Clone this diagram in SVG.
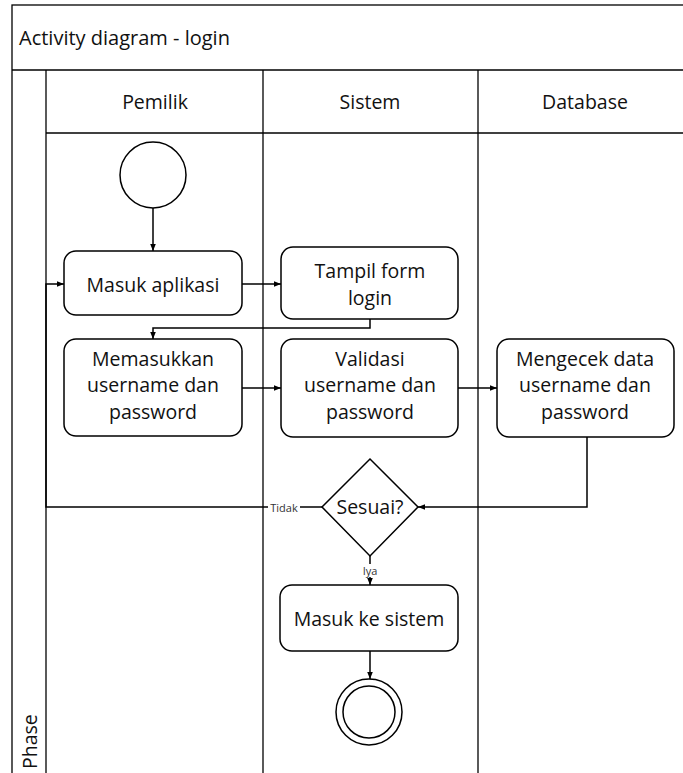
<svg xmlns="http://www.w3.org/2000/svg" width="683" height="773" viewBox="0 0 683 773">
<defs>
<style>
.ln{fill:none;stroke:#000;stroke-width:1.3}
.box{fill:#fff;stroke:#000;stroke-width:1.5}
.t{font-family:"Open Sans","Noto Sans",sans-serif;font-size:19.5px;fill:#111;text-anchor:middle;dominant-baseline:central}
.s{font-family:"Open Sans","Noto Sans",sans-serif;font-size:11px;fill:#333;text-anchor:middle;dominant-baseline:central}
.c{fill:none;stroke:#000;stroke-width:1.5}
</style>
<marker id="ah" viewBox="0 0 10 10" refX="10" refY="5" markerWidth="7" markerHeight="7" markerUnits="userSpaceOnUse" orient="auto">
<path d="M0,1 L10,5 L0,9 Z" fill="#000"/>
</marker>
</defs>
<rect width="683" height="773" fill="#fff"/>
<g id="frame">
<rect x="12" y="5" width="700" height="800" class="ln"/>
<line x1="12" y1="70" x2="690" y2="70" class="ln"/>
<text x="19" y="37" class="t" style="text-anchor:start;font-size:20px">Activity diagram - login</text>
<line x1="46" y1="70" x2="46" y2="773" class="ln"/>
<line x1="46" y1="133" x2="690" y2="133" class="ln"/>
<line x1="263" y1="70" x2="263" y2="773" class="ln"/>
<line x1="478" y1="70" x2="478" y2="773" class="ln"/>
<text x="155" y="101" class="t">Pemilik</text>
<text x="370" y="101" class="t">Sistem</text>
<text x="585" y="101" class="t">Database</text>
<text transform="translate(29,769) rotate(-90)" class="t" style="text-anchor:start">Phase</text>
</g>
<g id="connectors">
<line x1="153" y1="208" x2="153" y2="251" class="c" marker-end="url(#ah)"/>
<line x1="242" y1="284" x2="281" y2="284" class="c" marker-end="url(#ah)"/>
<polyline points="370,319 370,328 153,328 153,339" class="c" marker-end="url(#ah)"/>
<line x1="242" y1="388" x2="281" y2="388" class="c" marker-end="url(#ah)"/>
<line x1="458" y1="388" x2="497" y2="388" class="c" marker-end="url(#ah)"/>
<polyline points="587,437 587,507 418,507" class="c" marker-end="url(#ah)"/>
<polyline points="322,507 46,507 46,284 64,284" class="c" marker-end="url(#ah)"/>
<rect x="268" y="500" width="32" height="14" fill="#fff"/>
<text x="284" y="507" class="s">Tidak</text>
<line x1="370" y1="556" x2="370" y2="585" class="c" marker-end="url(#ah)"/>
<rect x="361" y="564" width="18" height="13" fill="#fff"/>
<text x="370" y="570" class="s">Iya</text>
<line x1="370" y1="651" x2="370" y2="679" class="c" marker-end="url(#ah)"/>
</g>
<g id="start"><circle cx="153" cy="175" r="33" class="box"/></g>
<g id="masuk-aplikasi">
<rect x="64" y="251" width="178" height="64" rx="12" class="box"/>
<text x="153" y="284" class="t">Masuk aplikasi</text>
</g>
<g id="tampil-form">
<rect x="281" y="247" width="177" height="72" rx="12" class="box"/>
<text x="370" y="270" class="t">Tampil form</text>
<text x="370" y="297" class="t">login</text>
</g>
<g id="memasukkan">
<rect x="64" y="339" width="178" height="97" rx="12" class="box"/>
<text x="153" y="358" class="t">Memasukkan</text>
<text x="153" y="384" class="t">username dan</text>
<text x="153" y="411" class="t">password</text>
</g>
<g id="validasi">
<rect x="281" y="339" width="177" height="98" rx="12" class="box"/>
<text x="370" y="358" class="t">Validasi</text>
<text x="370" y="384" class="t">username dan</text>
<text x="370" y="411" class="t">password</text>
</g>
<g id="mengecek">
<rect x="497" y="339" width="177" height="98" rx="12" class="box"/>
<text x="585" y="358" class="t">Mengecek data</text>
<text x="585" y="384" class="t">username dan</text>
<text x="585" y="411" class="t">password</text>
</g>
<g id="sesuai">
<polygon points="370,459 418,507 370,556 322,507" class="box"/>
<text x="370" y="506" class="t">Sesuai?</text>
</g>
<g id="masuk-sistem">
<rect x="280" y="585" width="178" height="66" rx="12" class="box"/>
<text x="369" y="618" class="t">Masuk ke sistem</text>
</g>
<g id="end">
<circle cx="369" cy="712" r="33" class="box"/>
<circle cx="369" cy="712" r="26" class="box"/>
</g>
</svg>
